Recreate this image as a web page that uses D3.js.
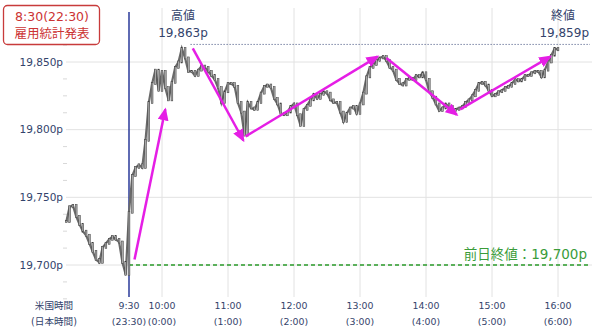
<!DOCTYPE html>
<html>
<head>
<meta charset="utf-8">
<script src="https://cdn.jsdelivr.net/npm/d3@7"></script>
<style>
  body { margin: 0; background: #fff; }
  svg { display: block; font-family: "DejaVu Sans", "Noto Sans CJK JP", sans-serif; }
</style>
</head>
<body>
<svg id="chart"></svg>
<script>
const width = 600;
const height = 336;

// DATA
// closes every 3 minutes starting 8:33 (US time)
const startMinute = 8 * 60 + 33;
const stepMinutes = 3;
const closes = [
  19732, 19743, 19744, 19736, 19730, 19725, 19722, 19716, 19710, 19704,
  19702, 19713, 19716, 19719, 19721, 19719, 19717, 19702, 19693, 19739,
  19766, 19772, 19774, 19772, 19792, 19820, 19834, 19844, 19829, 19843,
  19831, 19822, 19835, 19846, 19850, 19860, 19853, 19843, 19843, 19840,
  19844, 19847, 19846, 19843, 19840, 19837, 19831, 19820, 19828, 19834,
  19834, 19832, 19820, 19813, 19796, 19820, 19816, 19815, 19820, 19827,
  19832, 19833, 19831, 19823, 19819, 19812, 19811, 19813, 19817, 19819,
  19811, 19803, 19815, 19818, 19822, 19826, 19823, 19826, 19828, 19827,
  19822, 19820, 19820, 19813, 19806, 19812, 19816, 19817, 19812, 19819,
  19827, 19839, 19846, 19848, 19851, 19853, 19854, 19851, 19846, 19844,
  19837, 19834, 19833, 19837, 19838, 19837, 19840, 19839, 19842, 19837,
  19828, 19824, 19819, 19814, 19816, 19819, 19817, 19814, 19815, 19816,
  19817, 19820, 19822, 19825, 19829, 19834, 19835, 19833, 19829, 19825,
  19826, 19828, 19829, 19831, 19832, 19834, 19837, 19836, 19837, 19840,
  19840, 19842, 19843, 19843, 19839, 19844, 19850, 19855, 19860, 19859
];

const yTicks = [19700, 19750, 19800, 19850];
const usTimes = ['9:30', '10:00', '11:00', '12:00', '13:00', '14:00', '15:00', '16:00'];
const jpTimes = ['(23:30)', '(0:00)', '(1:00)', '(2:00)', '(3:00)', '(4:00)', '(5:00)', '(6:00)'];

const openTime = '9:30';
const highValue = 19863;
const highTime = '10:26';
const closeValue = 19859;
const prevClose = 19700;

// arrows: [from time, from price, to time, to price]
const arrows = [
  ['9:35', 19704, '10:03', 19815],
  ['10:28', 19860, '11:14', 19792],
  ['11:16', 19795, '13:16', 19854],
  ['13:24', 19853, '14:28', 19811],
  ['14:31', 19815, '15:53', 19854]
];

// HELPERS
const toMin = s => { const [h, m] = s.split(':').map(Number); return h * 60 + m; };
const fmt = d3.format(',');

const candles = closes.map((c, i) => ({
  t: startMinute + i * stepMinutes,
  open: i === 0 ? c : closes[i - 1],
  close: c
}));

// SCALES
const xScale = d3.scaleLinear()
                 .domain([toMin('9:30'), toMin('16:00')])
                 .range([129, 558]);
const yScale = d3.scaleLinear()
                 .domain([19700, 19850])
                 .range([265, 62]);

const svg = d3.select('#chart')
              .attr('width', width)
              .attr('height', height);

const navy = '#33436b';

// GRIDS
svg.append('g')
   .selectAll('line')
   .data(yTicks)
   .join('line')
     .attr('x1', 66).attr('x2', 592)
     .attr('y1', d => yScale(d)).attr('y2', d => yScale(d))
     .attr('stroke', '#e2e2e2');

const minorTicks = d3.range(19675, 19876, 12.5).filter(v => v % 50 !== 0);
svg.append('g')
   .selectAll('line')
   .data(minorTicks)
   .join('line')
     .attr('x1', 63).attr('x2', 67)
     .attr('y1', d => yScale(d)).attr('y2', d => yScale(d))
     .attr('stroke', '#d8d8d8');

svg.append('g')
   .selectAll('line')
   .data(usTimes.slice(1))
   .join('line')
     .attr('x1', d => xScale(toMin(d))).attr('x2', d => xScale(toMin(d)))
     .attr('y1', 8).attr('y2', 297)
     .attr('stroke', '#e2e2e2');

// Y LABELS
svg.append('g')
   .selectAll('text')
   .data(yTicks)
   .join('text')
     .attr('x', 63)
     .attr('y', d => yScale(d))
     .attr('dy', '0.35em')
     .attr('text-anchor', 'end')
     .attr('font-size', 10.5)
     .attr('fill', navy)
     .text(d => fmt(d) + 'p');

// X LABELS
const xLab = svg.append('g')
   .selectAll('g')
   .data(usTimes)
   .join('g')
     .attr('transform', d => `translate(${xScale(toMin(d))},0)`);
xLab.append('text')
    .attr('y', 309).attr('text-anchor', 'middle')
    .attr('font-size', 9.4).attr('fill', navy)
    .text(d => d);
xLab.append('text')
    .attr('y', 325).attr('text-anchor', 'middle')
    .attr('font-size', 9.4).attr('fill', navy)
    .text((d, i) => jpTimes[i]);

svg.append('text')
   .attr('x', 54).attr('y', 309)
   .attr('text-anchor', 'middle').attr('font-size', 9.6).attr('fill', navy)
   .text('米国時間');
svg.append('text')
   .attr('x', 54).attr('y', 325)
   .attr('text-anchor', 'middle').attr('font-size', 9.6).attr('fill', navy)
   .text('(日本時間)');

// PREVIOUS CLOSE LINE
svg.append('line')
   .attr('x1', xScale(toMin(openTime))).attr('x2', 590)
   .attr('y1', yScale(prevClose)).attr('y2', yScale(prevClose))
   .attr('stroke', '#2a9a2a')
   .attr('stroke-width', 1.5)
   .attr('stroke-dasharray', '4,3');
svg.append('text')
   .attr('x', 587).attr('y', yScale(prevClose) - 6)
   .attr('text-anchor', 'end').attr('font-size', 13.5).attr('fill', '#3a9c3a')
   .text('前日終値：' + fmt(prevClose) + 'p');

// HIGH LINE
svg.append('line')
   .attr('x1', xScale(toMin(highTime))).attr('x2', 590)
   .attr('y1', yScale(highValue)).attr('y2', yScale(highValue))
   .attr('stroke', '#3a4a7a')
   .attr('stroke-width', 1)
   .attr('stroke-dasharray', '1,2');

// OPEN LINE
svg.append('line')
   .attr('x1', xScale(toMin(openTime))).attr('x2', xScale(toMin(openTime)))
   .attr('y1', 12).attr('y2', 297)
   .attr('stroke', '#2a3a9a')
   .attr('stroke-width', 1.5);

// PRICE: line under small candle bodies
const line = d3.line().x(d => xScale(d.t)).y(d => yScale(d.close));
svg.append('path')
   .datum(candles)
   .attr('fill', 'none')
   .attr('stroke', '#6a6a6a')
   .attr('stroke-width', 2.2)
   .attr('d', line);

svg.append('g')
   .selectAll('rect')
   .data(candles)
   .join('rect')
     .attr('x', d => xScale(d.t) - 0.9)
     .attr('width', 1.8)
     .attr('y', d => yScale(Math.max(d.open, d.close)) - 1)
     .attr('height', d => Math.abs(yScale(d.open) - yScale(d.close)) + 2)
     .attr('fill', '#a8a8a8')
     .attr('stroke', '#3a3a3a')
     .attr('stroke-width', 0.5);

// ARROWS
const magenta = '#e51ee5';
svg.append('defs').append('marker')
   .attr('id', 'head')
   .attr('markerUnits', 'userSpaceOnUse')
   .attr('markerWidth', 13).attr('markerHeight', 11)
   .attr('refX', 11).attr('refY', 5.5)
   .attr('orient', 'auto')
   .append('path')
     .attr('d', 'M0,0 L13,5.5 L0,11 Z')
     .attr('fill', magenta);

svg.append('g')
   .selectAll('line')
   .data(arrows)
   .join('line')
     .attr('x1', d => xScale(toMin(d[0]))).attr('y1', d => yScale(d[1]))
     .attr('x2', d => xScale(toMin(d[2]))).attr('y2', d => yScale(d[3]))
     .attr('stroke', magenta)
     .attr('stroke-width', 2.5)
     .attr('marker-end', 'url(#head)');

// ANNOTATIONS
svg.append('text')
   .attr('x', 183).attr('y', 20)
   .attr('text-anchor', 'middle').attr('font-size', 12).attr('fill', navy)
   .text('高値');
svg.append('text')
   .attr('x', 183).attr('y', 37)
   .attr('text-anchor', 'middle').attr('font-size', 12).attr('fill', navy)
   .text(fmt(highValue) + 'p');

svg.append('text')
   .attr('x', 575).attr('y', 20)
   .attr('text-anchor', 'end').attr('font-size', 12).attr('fill', navy)
   .text('終値');
svg.append('text')
   .attr('x', 589).attr('y', 37)
   .attr('text-anchor', 'end').attr('font-size', 12).attr('fill', navy)
   .text(fmt(closeValue) + 'p');

// RELEASE BOX
svg.append('rect')
   .attr('x', 3.5).attr('y', 5.5)
   .attr('width', 96).attr('height', 39)
   .attr('rx', 4)
   .attr('fill', '#fff')
   .attr('stroke', '#c83b3b')
   .attr('stroke-width', 1.3);
svg.append('text')
   .attr('x', 52).attr('y', 21)
   .attr('text-anchor', 'middle').attr('font-size', 12.5).attr('fill', '#cc3333')
   .text('8:30(22:30)');
svg.append('text')
   .attr('x', 52).attr('y', 38)
   .attr('text-anchor', 'middle').attr('font-size', 12.5).attr('fill', '#cc3333')
   .text('雇用統計発表');
</script>
</body>
</html>
